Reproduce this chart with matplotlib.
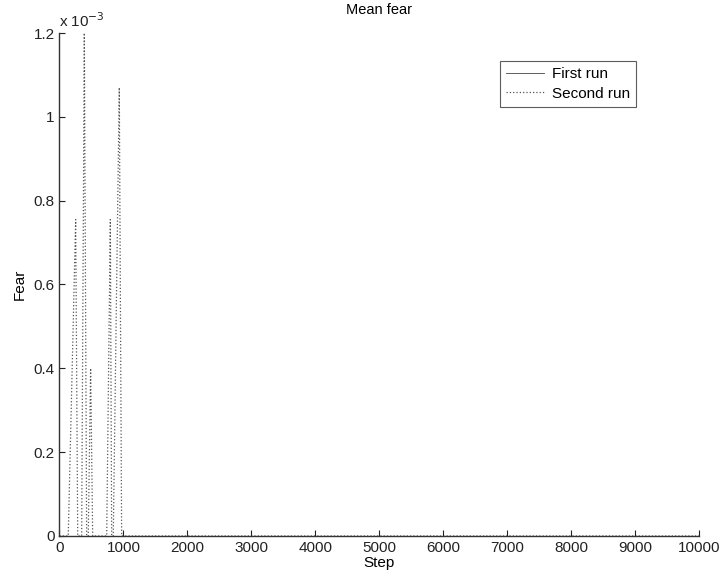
import matplotlib
matplotlib.use("Agg")
import matplotlib.pyplot as plt
from matplotlib.ticker import FuncFormatter

plt.rcParams['font.family'] = ['Liberation Sans', 'DejaVu Sans']

# Mean fear per step for two simulation runs
first_steps = [0, 10000]
first_fear = [0.0, 0.0]

second_steps = [0, 137, 253, 285, 347, 388, 425, 450, 487, 519,
                738, 795, 816, 841, 935, 972, 10000]
second_fear = [0.0, 0.0, 0.755e-3, 0.0, 0.0, 1.2e-3, 0.0, 0.0, 0.4e-3, 0.0,
               0.0, 0.755e-3, 0.0, 0.0, 1.07e-3, 0.0, 0.0]

x_ticks = list(range(0, 10001, 1000))
y_ticks = [0, 0.2e-3, 0.4e-3, 0.6e-3, 0.8e-3, 1.0e-3, 1.2e-3]

fig = plt.figure(figsize=(7.21, 5.79), dpi=100)
ax = fig.add_axes([0.0825, 0.0743, 0.887, 0.8687])

ax.plot(first_steps, first_fear, '-', color='#444444', lw=0.6, label='First run',
        zorder=1)
ax.plot(second_steps, second_fear, ':', color='#555555', lw=0.9, label='Second run',
        zorder=1)

ax.set_xlim(0, 10000)
ax.set_ylim(0, 1.2e-3)
ax.set_xticks(x_ticks)
ax.set_yticks(y_ticks)
ax.yaxis.set_major_formatter(FuncFormatter(lambda v, p: f"{v*1e3:g}"))
ax.tick_params(direction='in', length=4, labelsize=11, colors='#222222',
               top=False, right=False)
for s in ('top', 'right'):
    ax.spines[s].set_visible(False)
for s in ('left', 'bottom'):
    ax.spines[s].set_color('#333333')
    ax.spines[s].set_linewidth(1.0)
    ax.spines[s].set_zorder(3)

ax.text(0.0, 1.005, r"x 10$^{-3}$", transform=ax.transAxes, fontsize=11,
        ha='left', va='bottom', color='#222222')

ax.set_title("Mean fear", fontsize=10.5, pad=14)
ax.set_xlabel("Step", fontsize=11, labelpad=1)
ax.set_ylabel("Fear", fontsize=11, labelpad=5)

leg = ax.legend(loc='upper right', bbox_to_anchor=(0.902, 0.944), fontsize=11,
                frameon=True, fancybox=False, edgecolor='#333333',
                handlelength=2.5, borderpad=0.4, labelspacing=0.35,
                handletextpad=0.5, borderaxespad=0)
leg.get_frame().set_linewidth(0.8)

fig.savefig("out.png", dpi=100)
